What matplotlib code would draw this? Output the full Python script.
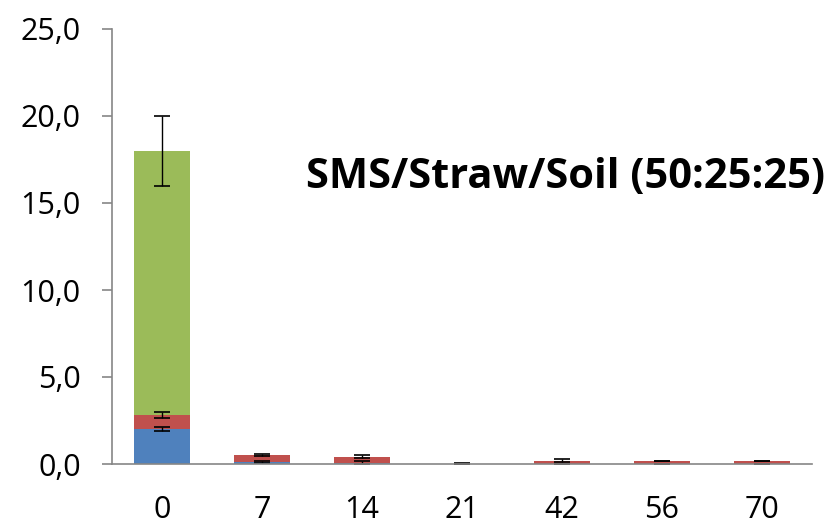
import matplotlib
matplotlib.use("Agg")
import matplotlib.pyplot as plt
import numpy as np

plt.rcParams['font.family'] = ['Open Sans', 'DejaVu Sans']

days = ["0", "7", "14", "21", "42", "56", "70"]
blue = [2.0, 0.1, 0.08, 0.0, 0.02, 0.02, 0.02]
red = [0.8, 0.42, 0.35, 0.02, 0.18, 0.16, 0.16]
green = [15.2, 0.0, 0.0, 0.0, 0.0, 0.0, 0.0]
blue_err = [0.1, 0.07, 0.07, 0.0, 0.0, 0.0, 0.0]
red_err = [0.18, 0.08, 0.1, 0.02, 0.07, 0.02, 0.02]
green_err = [2.0, 0.0, 0.0, 0.0, 0.0, 0.0, 0.0]
title = "SMS/Straw/Soil (50:25:25)"
yticks = [0, 5, 10, 15, 20, 25]

fig = plt.figure(figsize=(8.32, 5.30), dpi=100)
ax = fig.add_axes([112/832, 1-464/530, 700/832, 435/530])

x = np.arange(len(days))
b = np.array(blue); r = np.array(red); g = np.array(green)
w = 0.56
ax.bar(x, b, w, color='#4F81BD')
ax.bar(x, r, w, bottom=b, color='#C0504D')
ax.bar(x, g, w, bottom=b + r, color='#9BBB59')

ek = dict(fmt='none', ecolor='black', elinewidth=1.0, capsize=5.5, capthick=1.2)
ax.errorbar(x, b, yerr=blue_err, **ek)
ax.errorbar(x, b + r, yerr=red_err, **ek)
gm = g > 0
ax.errorbar(x[gm], (b + r + g)[gm], yerr=np.array(green_err)[gm], **ek)

ax.set_xlim(-0.5, len(days) - 0.5)
ax.set_ylim(0, 25)
ax.set_yticks(yticks)
ax.set_yticklabels([f"{v:.1f}".replace('.', ',') for v in yticks], fontsize=22)
ax.set_xticks(x)
ax.set_xticklabels(days, fontsize=22)
ax.tick_params(axis='x', length=0, pad=22)
ax.tick_params(axis='y', length=7.5, width=1.2, color='#868686', pad=15, direction='out')
for s in ['top', 'right']:
    ax.spines[s].set_visible(False)
for s in ['left', 'bottom']:
    ax.spines[s].set_color('#868686')
    ax.spines[s].set_linewidth(1.2)

ax.text(566/832, 1-188/530, title, transform=fig.transFigure, fontsize=30,
        fontweight='bold', ha='center', va='baseline')

fig.savefig('out.png', dpi=100)
